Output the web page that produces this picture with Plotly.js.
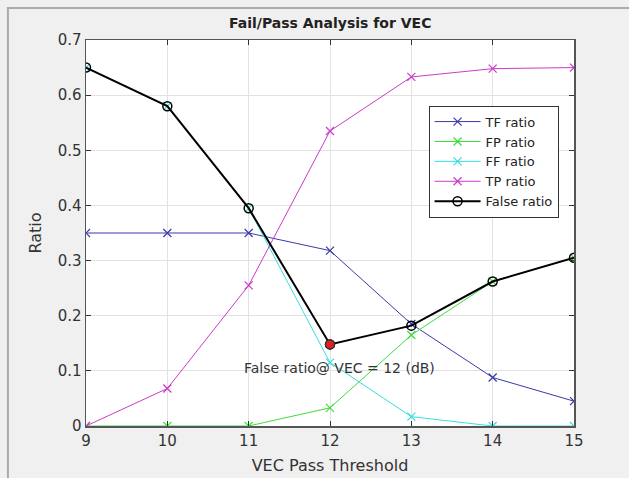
<!DOCTYPE html>
<html>
<head>
<meta charset="utf-8">
<script src="https://cdn.plot.ly/plotly-3.0.1.min.js"></script>
<style>
  html, body { margin: 0; padding: 0; background: #f0f0f0; }
  #chart { width: 629px; height: 478px; }
</style>
</head>
<body>
<div id="chart"></div>
<script>
// VEC pass thresholds (dB)
const thresholds = [9, 10, 11, 12, 13, 14, 15];

// Ratios per threshold
const tfRatio = [0.35, 0.35, 0.35, 0.318, 0.185, 0.088, 0.045];
const fpRatio = [0, 0, 0, 0.033, 0.165, 0.262, 0.305];
const ffRatio = [0.65, 0.58, 0.395, 0.115, 0.017, 0, 0];
const tpRatio = [0, 0.068, 0.255, 0.535, 0.633, 0.648, 0.65];
const falseRatio = [0.65, 0.58, 0.395, 0.148, 0.182, 0.262, 0.305];

// Highlighted operating point
const selectedVec = 12;
const selectedFalse = falseRatio[thresholds.indexOf(selectedVec)];

const tickVals = [0, 0.1, 0.2, 0.3, 0.4, 0.5, 0.6, 0.7];
const tickText = ['0', '0.1', '0.2', '0.3', '0.4', '0.5', '0.6', '0.7'];

function xLine(name, y, color) {
  return {
    x: thresholds, y: y, name: name, type: 'scatter', mode: 'lines+markers',
    line: {color: color, width: 1},
    marker: {symbol: 'x-thin-open', size: 8, line: {color: color, width: 1.2}, color: color}
  };
}

const traces = [
  xLine('TF ratio', tfRatio, '#3a3aa8'),
  xLine('FP ratio', fpRatio, '#3ddc3d'),
  xLine('FF ratio', ffRatio, '#38dede'),
  xLine('TP ratio', tpRatio, '#cc3acc'),
  {
    x: thresholds, y: falseRatio, name: 'False ratio', type: 'scatter', mode: 'lines+markers',
    line: {color: '#000000', width: 2},
    marker: {symbol: 'circle-open', size: 9, color: '#000000', line: {color: '#000000', width: 1.5}}
  },
  {
    x: [selectedVec], y: [selectedFalse], type: 'scatter', mode: 'markers', showlegend: false,
    marker: {symbol: 'circle', size: 9, color: '#e02020', line: {color: '#333333', width: 1.2}},
    hoverinfo: 'skip'
  }
];

const fontFam = '"DejaVu Sans", Verdana, sans-serif';

const layout = {
  width: 629, height: 478,
  paper_bgcolor: '#f0f0f0',
  plot_bgcolor: '#ffffff',
  margin: {l: 86, r: 55, t: 40, b: 52},
  title: {
    text: '<b>Fail/Pass Analysis for VEC</b>',
    font: {family: fontFam, size: 14, color: '#222222'},
    x: 0.525, xanchor: 'center', y: 0.952, yanchor: 'middle'
  },
  showlegend: true,
  legend: {
    x: 0.702, y: 0.83, xanchor: 'left', yanchor: 'top',
    bgcolor: '#ffffff', bordercolor: '#333333', borderwidth: 1,
    font: {family: fontFam, size: 13, color: '#222222'},
    tracegroupgap: 0, itemwidth: 46
  },
  xaxis: {
    range: [9, 15], tickvals: thresholds, ticktext: thresholds.map(String),
    ticks: 'inside', ticklen: 5, tickcolor: '#333333',
    showgrid: true, gridcolor: '#e2e2e2', gridwidth: 1,
    showline: true, linecolor: '#555555', linewidth: 1.5, mirror: 'ticks',
    zeroline: false,
    tickfont: {family: fontFam, size: 15, color: '#333333'},
    title: {text: 'VEC Pass Threshold', standoff: 11, font: {family: fontFam, size: 16, color: '#333333'}}
  },
  yaxis: {
    range: [0, 0.7], tickvals: tickVals, ticktext: tickText,
    ticks: 'inside', ticklen: 5, tickcolor: '#333333',
    showgrid: true, gridcolor: '#e2e2e2', gridwidth: 1,
    showline: true, linecolor: '#555555', linewidth: 1.5, mirror: 'ticks',
    zeroline: false,
    tickfont: {family: fontFam, size: 15, color: '#333333'},
    title: {text: 'Ratio', standoff: 12, font: {family: fontFam, size: 16, color: '#333333'}}
  },
  annotations: [{
    x: 12.12, y: 0.105, xref: 'x', yref: 'y',
    text: 'False ratio@ VEC = ' + selectedVec + ' (dB)',
    showarrow: false, xanchor: 'center', yanchor: 'middle',
    font: {family: fontFam, size: 14, color: '#333333'}
  }],
  shapes: [{
    type: 'rect', xref: 'paper', yref: 'paper',
    x0: -0.160, x1: 1.2, y0: -0.27, y1: 1.083,
    line: {color: '#aaaaaa', width: 2}, fillcolor: 'rgba(0,0,0,0)', layer: 'below'
  }]
};

Plotly.newPlot('chart', traces, layout, {displayModeBar: false, staticPlot: true});
</script>
</body>
</html>
